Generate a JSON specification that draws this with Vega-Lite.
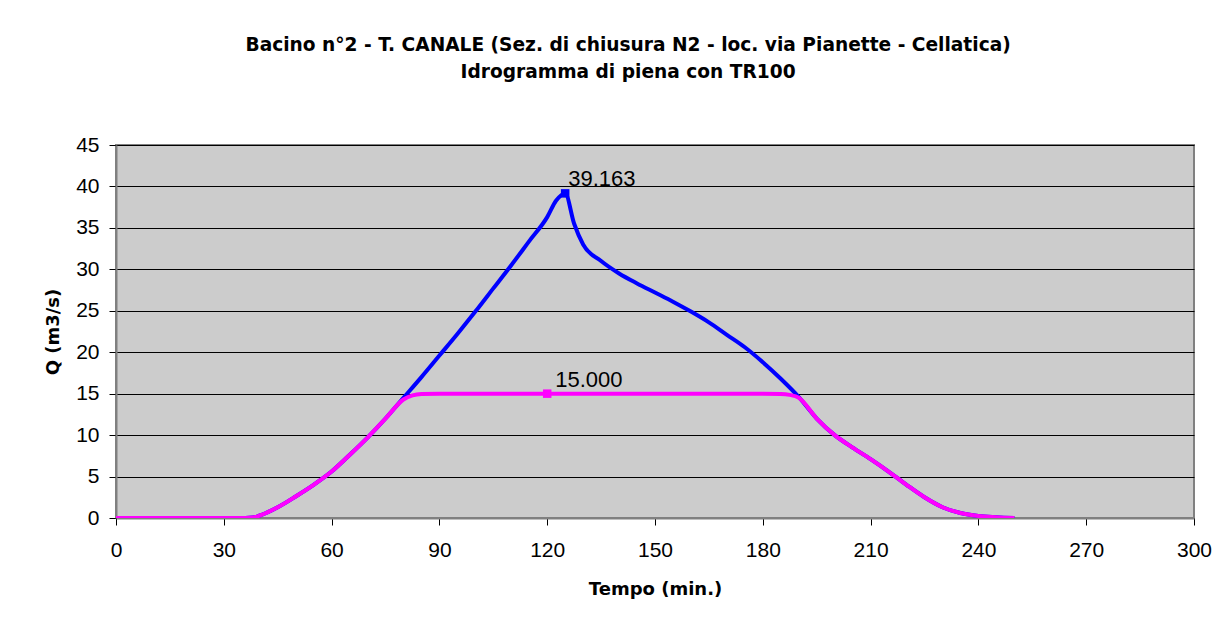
{
  "$schema": "https://vega.github.io/schema/vega-lite/v6.json",
  "autosize": "none",
  "width": 1078,
  "height": 373,
  "padding": {"left": 116, "top": 145, "right": 32, "bottom": 107},
  "background": "white",
  "title": {
    "text": ["Bacino n°2 - T. CANALE (Sez. di chiusura N2 - loc. via Pianette - Cellatica)", "Idrogramma di piena con TR100"],
    "font": "DejaVu Sans",
    "fontSize": 18.6,
    "fontWeight": "bold",
    "color": "black",
    "anchor": "middle",
    "frame": "bounds",
    "lineHeight": 27,
    "offset": 52
  },
  "config": {
    "view": {"fill": "#CCCCCC", "stroke": "#808080", "strokeWidth": 2},
    "axis": {"labelFont": "Liberation Sans", "labelFontSize": 21, "labelColor": "black", "labelFlush": false, "labelOverlap": false, "titleFont": "DejaVu Sans", "titleFontSize": 18, "titleFontWeight": "bold", "titleColor": "black", "domainColor": "#808080", "tickColor": "#000000"}
  },
  "data": {"values": [
    {"t": 0, "Q": 0, "s": "Qin"}, {"t": 10, "Q": 0, "s": "Qin"}, {"t": 20, "Q": 0, "s": "Qin"}, {"t": 30, "Q": 0, "s": "Qin"}, {"t": 36, "Q": 0, "s": "Qin"}, {"t": 38, "Q": 0.05, "s": "Qin"}, {"t": 40, "Q": 0.3, "s": "Qin"}, {"t": 45, "Q": 1.3, "s": "Qin"}, {"t": 50, "Q": 2.6, "s": "Qin"}, {"t": 55, "Q": 4.0, "s": "Qin"}, {"t": 60, "Q": 5.6, "s": "Qin"}, {"t": 65, "Q": 7.6, "s": "Qin"}, {"t": 70, "Q": 9.7, "s": "Qin"}, {"t": 75, "Q": 12.0, "s": "Qin"}, {"t": 80, "Q": 14.5, "s": "Qin"}, {"t": 85, "Q": 17.0, "s": "Qin"}, {"t": 90, "Q": 19.6, "s": "Qin"}, {"t": 95, "Q": 22.2, "s": "Qin"}, {"t": 100, "Q": 24.9, "s": "Qin"}, {"t": 105, "Q": 27.7, "s": "Qin"}, {"t": 110, "Q": 30.5, "s": "Qin"}, {"t": 115, "Q": 33.4, "s": "Qin"}, {"t": 120, "Q": 36.3, "s": "Qin"}, {"t": 122.5, "Q": 38.3, "s": "Qin"}, {"t": 125, "Q": 39.163, "s": "Qin"}, {"t": 127.5, "Q": 35.5, "s": "Qin"}, {"t": 130, "Q": 33.0, "s": "Qin"}, {"t": 135, "Q": 31.0, "s": "Qin"}, {"t": 140, "Q": 29.5, "s": "Qin"}, {"t": 145, "Q": 28.3, "s": "Qin"}, {"t": 150, "Q": 27.2, "s": "Qin"}, {"t": 155, "Q": 26.1, "s": "Qin"}, {"t": 160, "Q": 24.9, "s": "Qin"}, {"t": 165, "Q": 23.6, "s": "Qin"}, {"t": 170, "Q": 22.1, "s": "Qin"}, {"t": 175, "Q": 20.6, "s": "Qin"}, {"t": 180, "Q": 18.8, "s": "Qin"}, {"t": 185, "Q": 16.8, "s": "Qin"}, {"t": 190, "Q": 14.6, "s": "Qin"}, {"t": 195, "Q": 12.0, "s": "Qin"}, {"t": 200, "Q": 10.0, "s": "Qin"}, {"t": 205, "Q": 8.5, "s": "Qin"}, {"t": 210, "Q": 7.1, "s": "Qin"}, {"t": 215, "Q": 5.6, "s": "Qin"}, {"t": 220, "Q": 4.0, "s": "Qin"}, {"t": 225, "Q": 2.5, "s": "Qin"}, {"t": 230, "Q": 1.3, "s": "Qin"}, {"t": 235, "Q": 0.6, "s": "Qin"}, {"t": 240, "Q": 0.25, "s": "Qin"}, {"t": 245, "Q": 0.1, "s": "Qin"}, {"t": 250, "Q": 0.0, "s": "Qin"},
    {"t": 0, "Q": 0, "s": "Qout"}, {"t": 10, "Q": 0, "s": "Qout"}, {"t": 20, "Q": 0, "s": "Qout"}, {"t": 30, "Q": 0, "s": "Qout"}, {"t": 36, "Q": 0, "s": "Qout"}, {"t": 38, "Q": 0.05, "s": "Qout"}, {"t": 40, "Q": 0.3, "s": "Qout"}, {"t": 45, "Q": 1.3, "s": "Qout"}, {"t": 50, "Q": 2.6, "s": "Qout"}, {"t": 55, "Q": 4.0, "s": "Qout"}, {"t": 60, "Q": 5.6, "s": "Qout"}, {"t": 65, "Q": 7.6, "s": "Qout"}, {"t": 70, "Q": 9.7, "s": "Qout"}, {"t": 75, "Q": 12.0, "s": "Qout"}, {"t": 80, "Q": 14.3, "s": "Qout"}, {"t": 82.5, "Q": 14.8, "s": "Qout"}, {"t": 85, "Q": 14.97, "s": "Qout"}, {"t": 90, "Q": 15.0, "s": "Qout"}, {"t": 100, "Q": 15.0, "s": "Qout"}, {"t": 110, "Q": 15.0, "s": "Qout"}, {"t": 120, "Q": 15.0, "s": "Qout"}, {"t": 130, "Q": 15.0, "s": "Qout"}, {"t": 140, "Q": 15.0, "s": "Qout"}, {"t": 150, "Q": 15.0, "s": "Qout"}, {"t": 160, "Q": 15.0, "s": "Qout"}, {"t": 170, "Q": 15.0, "s": "Qout"}, {"t": 180, "Q": 15.0, "s": "Qout"}, {"t": 185, "Q": 14.97, "s": "Qout"}, {"t": 187.5, "Q": 14.85, "s": "Qout"}, {"t": 190, "Q": 14.5, "s": "Qout"}, {"t": 195, "Q": 12.0, "s": "Qout"}, {"t": 200, "Q": 10.0, "s": "Qout"}, {"t": 205, "Q": 8.5, "s": "Qout"}, {"t": 210, "Q": 7.1, "s": "Qout"}, {"t": 215, "Q": 5.6, "s": "Qout"}, {"t": 220, "Q": 4.0, "s": "Qout"}, {"t": 225, "Q": 2.5, "s": "Qout"}, {"t": 230, "Q": 1.3, "s": "Qout"}, {"t": 235, "Q": 0.6, "s": "Qout"}, {"t": 240, "Q": 0.25, "s": "Qout"}, {"t": 245, "Q": 0.1, "s": "Qout"}, {"t": 250, "Q": 0.0, "s": "Qout"}
  ]},
  "encoding": {
    "x": {"field": "t", "type": "quantitative", "title": "Tempo (min.)",
      "scale": {"domain": [0, 300], "nice": false},
      "axis": {"values": [0, 30, 60, 90, 120, 150, 180, 210, 240, 270, 300], "grid": false, "tickSize": 7, "labelPadding": 14, "titlePadding": 20, "domainWidth": 2}},
    "y": {"field": "Q", "type": "quantitative", "title": "Q (m3/s)",
      "scale": {"domain": [0, 45], "nice": false},
      "axis": {"values": [0, 5, 10, 15, 20, 25, 30, 35, 40, 45], "grid": true, "gridColor": "black", "gridWidth": 1, "gridOpacity": 1, "tickSize": 7, "labelPadding": 10, "titlePadding": 13, "domainWidth": 2}},
    "color": {"field": "s", "type": "nominal", "legend": null, "scale": {"domain": ["Qin", "Qout"], "range": ["#0000FF", "#FF00FF"]}}
  },
  "layer": [
    {"mark": {"type": "line", "strokeWidth": 4, "interpolate": "monotone", "clip": true}},
    {"transform": [{"filter": "(datum.s == 'Qin' && datum.t == 125) || (datum.s == 'Qout' && datum.t == 120)"}],
     "mark": {"type": "square", "size": 72, "opacity": 1, "filled": true}},
    {"transform": [{"filter": "datum.s == 'Qin' && datum.t == 125"}],
     "mark": {"type": "text", "align": "left", "baseline": "alphabetic", "dx": 3, "dy": -7, "font": "Liberation Sans", "fontSize": 22},
     "encoding": {"text": {"field": "Q", "type": "quantitative", "format": ".3f"}, "color": {"value": "black"}}},
    {"transform": [{"filter": "datum.s == 'Qout' && datum.t == 120"}],
     "mark": {"type": "text", "align": "left", "baseline": "alphabetic", "dx": 8, "dy": -7, "font": "Liberation Sans", "fontSize": 22},
     "encoding": {"text": {"field": "Q", "type": "quantitative", "format": ".3f"}, "color": {"value": "black"}}}
  ]
}
